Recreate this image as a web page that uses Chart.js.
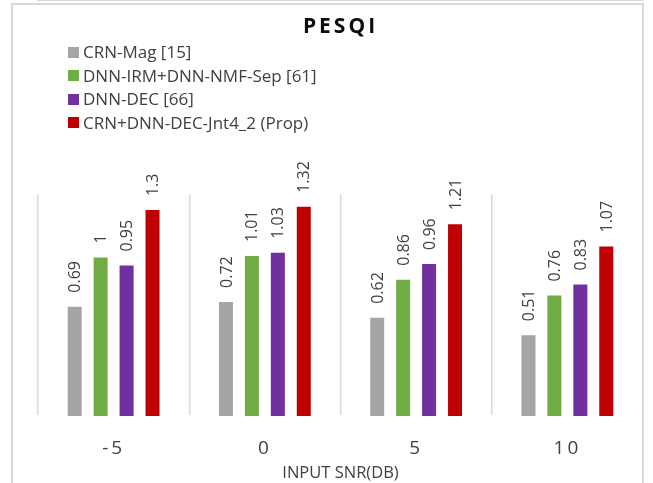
<!DOCTYPE html>
<html>
<head>
<meta charset="utf-8">
<script src="https://cdn.jsdelivr.net/npm/chart.js"></script>
<style>
  html, body { margin: 0; padding: 0; background: #fff; overflow: hidden; }
  body { width: 653px; height: 483px; position: relative; }
  #frame {
    position: absolute; left: 11px; top: 3px; width: 629px; height: 520px;
    border: 2px solid #d9d9d9; border-bottom: none;
  }
  #chart { position: absolute; left: 0; top: 0; }
  #legend {
    position: absolute; left: 68px; top: 40px;
    font-family: "Open Sans", sans-serif; font-size: 17px; color: #404040;
  }
  #legend div { height: 23.5px; line-height: 23.5px; white-space: nowrap; }
  #legend span.box {
    display: inline-block; width: 11px; height: 11px; margin-right: 4px;
    vertical-align: middle; position: relative; top: -1px;
  }
</style>
</head>
<body>
<div id="frame"></div>
<canvas id="chart" width="653" height="483"></canvas>
<div id="legend"></div>
<script>
const categories = ['-5', '0', '5', '10'];
const seriesNames = [
  'CRN-Mag [15]',
  'DNN-IRM+DNN-NMF-Sep [61]',
  'DNN-DEC [66]',
  'CRN+DNN-DEC-Jnt4_2 (Prop)'
];
const seriesColors = ['#A5A5A5', '#70AD47', '#7030A0', '#C00000'];
const crnMag = [0.69, 0.72, 0.62, 0.51];
const dnnIrmNmf = [1, 1.01, 0.86, 0.76];
const dnnDec = [0.95, 1.03, 0.96, 0.83];
const propJnt = [1.3, 1.32, 1.21, 1.07];
const seriesValues = [crnMag, dnnIrmNmf, dnnDec, propJnt];

Chart.defaults.font.family = '"Open Sans", sans-serif';
Chart.defaults.color = '#404040';

// rotated value labels above each bar
const barLabels = {
  id: 'barLabels',
  beforeDraw(chart) {
    chart.ctx.letterSpacing = '3px';
  },
  afterDatasetsDraw(chart) {
    const ctx = chart.ctx;
    ctx.letterSpacing = '0px';
    chart.data.datasets.forEach((ds, i) => {
      chart.getDatasetMeta(i).data.forEach((bar, j) => {
        ctx.save();
        ctx.translate(bar.x, bar.y - 14);
        ctx.rotate(-Math.PI / 2);
        ctx.font = '16px "Open Sans", sans-serif';
        ctx.fillStyle = '#404040';
        ctx.textAlign = 'left';
        ctx.textBaseline = 'middle';
        ctx.fillText(String(ds.data[j]), 0, 1);
        ctx.restore();
      });
    });
  }
};

const datasets = seriesNames.map((name, i) => ({
  label: name,
  data: seriesValues[i],
  backgroundColor: seriesColors[i],
  categoryPercentage: 0.686,
  barPercentage: 0.54
}));

new Chart(document.getElementById('chart'), {
  type: 'bar',
  data: { labels: categories, datasets },
  plugins: [barLabels],
  options: {
    responsive: false,
    animation: false,
    layout: { padding: { left: 38, right: 10, top: 0, bottom: 0 } },
    plugins: {
      legend: { display: false },
      tooltip: { enabled: false },
      title: {
        display: true,
        text: 'PESQI',
        color: '#0d0d0d',
        font: { size: 21, weight: 'bold' },
        padding: { top: 14, bottom: 155 }
      }
    },
    scales: {
      x: {
        afterFit(scale) { scale.height = 67; },
        grid: { color: '#d9d9d9', lineWidth: 1.5, drawTicks: false, z: 1 },
        border: { color: '#d9d9d9', width: 2 },
        ticks: { font: { size: 19 }, color: '#404040', padding: 21 },
        title: {
          display: true,
          text: 'INPUT SNR(DB)',
          color: '#404040',
          font: { size: 16.5 },
          padding: { top: 2, bottom: 0 }
        }
      },
      y: { display: false, min: 0, max: 1.4 }
    }
  }
});

const legendEl = document.getElementById('legend');
seriesNames.forEach((name, i) => {
  const row = document.createElement('div');
  const box = document.createElement('span');
  box.className = 'box';
  box.style.background = seriesColors[i];
  row.appendChild(box);
  row.appendChild(document.createTextNode(name));
  legendEl.appendChild(row);
});
</script>
</body>
</html>
